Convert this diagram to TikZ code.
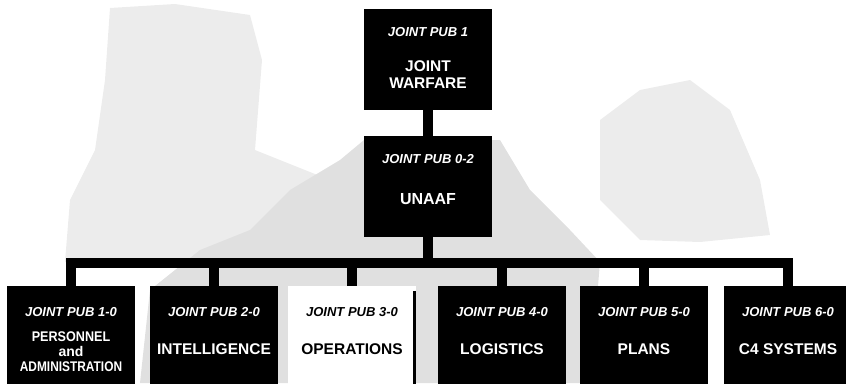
\documentclass[tikz,border=0pt]{standalone}
\usepackage{fontspec}
\setmainfont{Liberation Sans}
\usepackage{graphicx}
\tikzset{
  pubbox/.style={shape=rectangle, fill=black, minimum width=128pt, minimum height=101pt, inner sep=0pt},
  kidbox/.style={pubbox, minimum height=104pt},
  pubtag/.style={text=white, font=\fontsize{13}{15}\selectfont\bfseries\itshape, inner sep=0pt},
  pubtitle/.style={text=white, font=\fontsize{15.5}{17}\selectfont\bfseries, align=center, inner sep=0pt},
  link/.style={line width=9.5pt},
  speckle/.style={fill=gray!15}
}
\begin{document}
\begin{tikzpicture}[x=1pt, y=-1pt]
    \clip (0,0) rectangle (846,383);
    % scanned background
    \fill[speckle] (110,8) -- (175,4) -- (250,15) -- (262,60) -- (255,150) -- (330,180) -- (370,240) -- (370,262) -- (65,262) -- (70,200) -- (95,150) -- (105,80) -- cycle;
    \fill[speckle, fill=gray!24] (250,230) -- (290,190) -- (340,160) -- (364,140) -- (500,140) -- (530,190) -- (570,230) -- (600,262) -- (590,383) -- (140,383) -- (150,290) -- (200,250) -- cycle;
    \fill[speckle] (600,120) -- (640,90) -- (690,80) -- (730,110) -- (760,180) -- (770,235) -- (700,242) -- (640,240) -- (600,200) -- cycle;
    % top two levels
    \node[name=jp1, pubbox] at (428,59.5) {};
    \node[name=jp1tag, pubtag] at ([yshift=-23.5pt]jp1.north) {JOINT PUB 1};
    \node[name=jp1title, pubtitle] at ([yshift=-66pt]jp1.north) {JOINT\\WARFARE};
    \node[name=jp02, pubbox] at (428,186.5) {};
    \node[name=jp02tag, pubtag] at ([yshift=-23pt]jp02.north) {JOINT PUB 0-2};
    \node[name=jp02title, pubtitle, font=\fontsize{16}{17}\selectfont\bfseries] at ([yshift=-63pt]jp02.north) {UNAAF};
    \draw[link] (jp1.south) -- (jp02.north);
    % keystone pubs
    \node[name=jp10, kidbox] at (71,338) {};
    \node[name=jp10tag, pubtag] at ([yshift=-26pt]jp10.north) {JOINT PUB 1-0};
    \node[name=jp10title, pubtitle, font=\fontsize{14}{15}\selectfont\bfseries] at ([yshift=-66pt]jp10.north) {\scalebox{0.9}[1]{PERSONNEL}\\and\\\scalebox{0.85}[1]{ADMINISTRATION}};
    \node[name=jp20, kidbox] at (214,338) {};
    \node[name=jp20tag, pubtag] at ([yshift=-26pt]jp20.north) {JOINT PUB 2-0};
    \node[name=jp20title, pubtitle] at ([yshift=-63pt]jp20.north) {INTELLIGENCE};
    \node[name=jp30, kidbox, fill=white] at (352,338) {};
    \draw[line width=3pt] ([xshift=-1.5pt,yshift=-5pt]jp30.north east) -- ([xshift=-1.5pt]jp30.south east);
    \node[name=jp30tag, pubtag, text=black] at ([yshift=-26pt]jp30.north) {JOINT PUB 3-0};
    \node[name=jp30title, pubtitle, text=black] at ([yshift=-63pt]jp30.north) {OPERATIONS};
    \node[name=jp40, kidbox] at (502,338) {};
    \node[name=jp40tag, pubtag] at ([yshift=-26pt]jp40.north) {JOINT PUB 4-0};
    \node[name=jp40title, pubtitle] at ([yshift=-63pt]jp40.north) {LOGISTICS};
    \node[name=jp50, kidbox] at (644,338) {};
    \node[name=jp50tag, pubtag] at ([yshift=-26pt]jp50.north) {JOINT PUB 5-0};
    \node[name=jp50title, pubtitle] at ([yshift=-63pt]jp50.north) {PLANS};
    \node[name=jp60, kidbox] at (788,338) {};
    \node[name=jp60tag, pubtag] at ([yshift=-26pt]jp60.north) {JOINT PUB 6-0};
    \node[name=jp60title, pubtitle] at ([yshift=-63pt]jp60.north) {C4 SYSTEMS};
    % bus
    \foreach \kid in {jp10,jp20,jp30,jp40,jp50,jp60}
        \draw[link] (jp02.south) -- ++(0,26) -| (\kid.north);
\end{tikzpicture}
\end{document}
